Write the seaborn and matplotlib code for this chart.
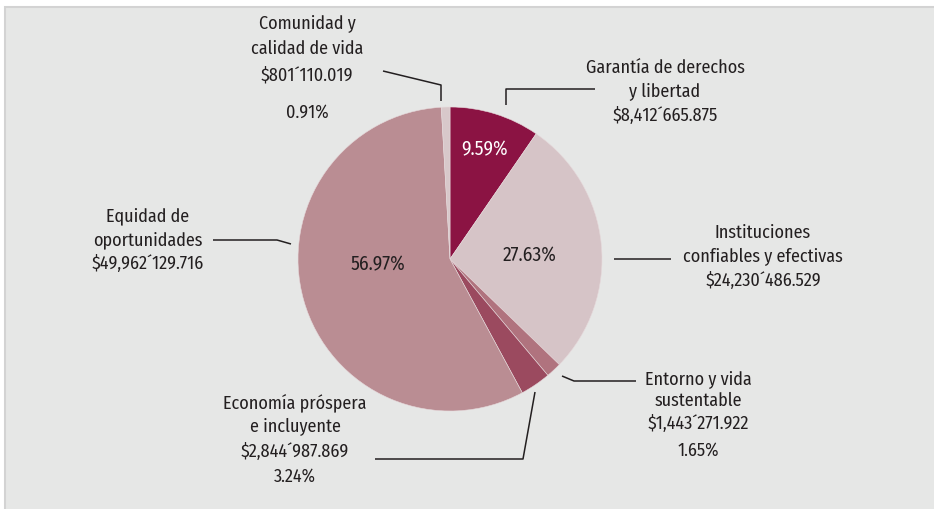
import numpy as np
import seaborn as sb
import matplotlib.pyplot as plt
from matplotlib.patches import Rectangle

# Slices in clockwise order starting at 12 o'clock
labels = ["Garantía de derechos\ny libertad",
          "Instituciones\nconfiables y efectivas",
          "Entorno y vida\nsustentable",
          "Economía próspera\ne incluyente",
          "Equidad de\noportunidades",
          "Comunidad y\ncalidad de vida"]
amounts = ["$8,412´665.875", "$24,230´486.529", "$1,443´271.922",
           "$2,844´987.869", "$49,962´129.716", "$801´110.019"]
values = [8412665.875, 24230486.529, 1443271.922, 2844987.869, 49962129.716, 801110.019]
pcts = ["9.59%", "27.63%", "1.65%", "3.24%", "56.97%", "0.91%"]
colors = ["#8b1343", "#d6c4c7", "#b0737e", "#9b4a5f", "#ba8d93", "#d8c8ca"]

sb.set_style("white")
plt.rcParams['font.family'] = ['Fira Sans Condensed', 'Roboto Condensed', 'Archivo Narrow',
                               'PT Sans Narrow', 'DejaVu Sans']
txt = '#231f20'

fig = plt.figure(figsize=(9.34, 5.10), dpi=100)
ax = fig.add_axes([0, 0, 1, 1])

# panel background
ax.add_patch(Rectangle((5, -5), 940, 507, facecolor='#e6e7e6', edgecolor='#d3d3d3', lw=1.5, zorder=0))

ax.pie(values, colors=sb.color_palette(colors), startangle=90, counterclock=False,
       center=(450, 250), radius=152, frame=True,
       wedgeprops=dict(edgecolor='#e6d9db', linewidth=0.4))
ax.set_xlim(0, 934)
ax.set_ylim(0, 510)
ax.set_aspect('equal')
ax.axis('off')

fs = 13

# labels: (text x, text y, linespacing, pct x, pct y, leader line)
layout = [
    (665, 418, 1.42, None, None, [(506, 404), (506, 420), (595, 420)]),
    (763, 253, 1.42, None, None, [(614, 250), (671, 250)]),
    (698, 109, 1.32, 698, 59, [(562, 133), (574, 128), (636, 128)]),
    (295, 83, 1.42, 295, 33, [(535, 117), (523, 50), (375, 50)]),
    (148, 270, 1.45, None, None, [(213, 269), (277, 269), (291, 265)]),
    (307, 461, 1.58, 307, 397, [(383, 438), (441, 424), (441, 408)]),
]
for i, (tx, ty, ls, px, py, line) in enumerate(layout):
    ax.text(tx, ty, labels[i] + "\n" + amounts[i], ha='center', va='center',
            fontsize=fs, color=txt, linespacing=ls)
    if px is not None:
        ax.text(px, py, pcts[i], ha='center', va='center', fontsize=fs, color=txt)
    xs, ys = zip(*line)
    ax.plot(xs, ys, color='#231f20', lw=1.1, solid_capstyle='butt')

# percentages drawn inside the big slices
ax.text(485, 360, pcts[0], ha='center', va='center', fontsize=fs + 1, color='white')
ax.text(530, 255, pcts[1], ha='center', va='center', fontsize=fs + 1, color=txt)
ax.text(378, 245, pcts[4], ha='center', va='center', fontsize=fs + 1, color=txt)

plt.savefig('out.png', dpi=100, facecolor='white')
